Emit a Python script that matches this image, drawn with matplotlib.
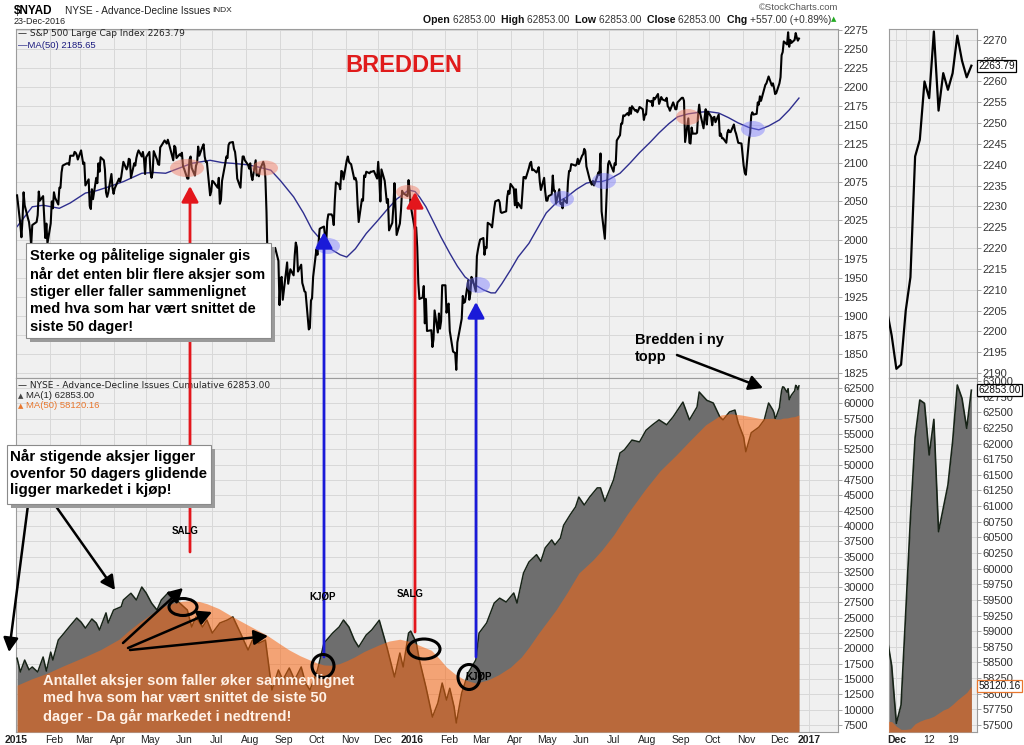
import matplotlib
matplotlib.use("Agg")
import matplotlib.pyplot as plt
import matplotlib.font_manager as fm
from matplotlib.patches import Ellipse, Rectangle, FancyArrowPatch
from matplotlib.transforms import ScaledTranslation
import numpy as np
import pandas as pd

plt.rcParams["font.family"] = ["Liberation Sans", "DejaVu Sans"]

# ---------------------------------------------------------------------------
# data
# ---------------------------------------------------------------------------
nyse_holidays = ["2015-01-01", "2015-01-19", "2015-02-16", "2015-04-03", "2015-05-25",
                 "2015-07-03", "2015-09-07", "2015-11-26", "2015-12-25", "2016-01-01",
                 "2016-01-18", "2016-02-15", "2016-03-25", "2016-05-30", "2016-07-04",
                 "2016-09-05", "2016-11-24"]

# S&P 500 daily close, one list per month
sp500_by_month = {
    "2015-01": [2058, 2020, 2003, 2026, 2062, 2045, 2028, 2023, 2011, 1992, 2019, 2023, 2032, 2063, 2051, 2057, 2029, 2002, 2021, 1995],
    "2015-02": [2021, 2050, 2041, 2062, 2055, 2046, 2068, 2068, 2088, 2097, 2100, 2100, 2098, 2110, 2110, 2115, 2114, 2111, 2105],
    "2015-03": [2117, 2108, 2099, 2101, 2071, 2079, 2044, 2040, 2066, 2053, 2081, 2074, 2100, 2089, 2108, 2104, 2092, 2062, 2056, 2061, 2086, 2068],
    "2015-04": [2060, 2067, 2080, 2076, 2082, 2092, 2102, 2092, 2096, 2106, 2105, 2081, 2100, 2097, 2107, 2113, 2117, 2109, 2115, 2106, 2086],
    "2015-05": [2108, 2115, 2089, 2081, 2088, 2116, 2105, 2099, 2098, 2121, 2123, 2130, 2128, 2126, 2131, 2126, 2104, 2123, 2121, 2107],
    "2015-06": [2112, 2110, 2114, 2096, 2093, 2080, 2080, 2105, 2109, 2094, 2084, 2097, 2101, 2122, 2110, 2122, 2125, 2109, 2102, 2102, 2058, 2063],
    "2015-07": [2077, 2076, 2068, 2081, 2047, 2052, 2077, 2100, 2109, 2107, 2124, 2127, 2128, 2119, 2115, 2102, 2080, 2068, 2093, 2109, 2109, 2104],
    "2015-08": [2098, 2093, 2100, 2084, 2078, 2104, 2084, 2086, 2083, 2092, 2102, 2097, 2080, 2036, 1971, 1893, 1868, 1940, 1988, 1989, 1972],
    "2015-09": [1914, 1949, 1951, 1921, 1970, 1942, 1952, 1961, 1953, 1979, 1996, 1990, 1958, 1967, 1943, 1938, 1932, 1931, 1882, 1884, 1920],
    "2015-10": [1923, 1951, 1987, 1980, 1996, 2014, 2015, 2017, 2004, 1994, 2024, 2033, 2033, 2030, 2019, 2052, 2075, 2072, 2066, 2090, 2089, 2079],
    "2015-11": [2104, 2109, 2102, 2100, 2099, 2079, 2081, 2076, 2046, 2023, 2053, 2051, 2084, 2082, 2089, 2087, 2089, 2089, 2090, 2080],
    "2015-12": [2102, 2080, 2050, 2092, 2077, 2063, 2048, 2053, 2012, 2022, 2043, 2074, 2041, 2006, 2021, 2038, 2064, 2061, 2057, 2078, 2063, 2044],
    "2016-01": [2012, 2016, 1990, 1943, 1922, 1924, 1939, 1890, 1922, 1880, 1881, 1859, 1869, 1907, 1878, 1903, 1883, 1893, 1940],
    "2016-02": [1940, 1904, 1913, 1916, 1880, 1853, 1852, 1851, 1829, 1865, 1896, 1926, 1917, 1918, 1946, 1921, 1929, 1951, 1948, 1932],
    "2016-03": [1978, 1987, 1994, 2000, 2002, 1980, 1990, 1989, 2022, 2019, 2016, 2028, 2041, 2050, 2052, 2049, 2036, 2035, 2037, 2056, 2064, 2060],
    "2016-04": [2073, 2067, 2045, 2066, 2042, 2048, 2041, 2062, 2082, 2082, 2080, 2094, 2100, 2102, 2091, 2092, 2088, 2091, 2095, 2076, 2065],
    "2016-05": [2081, 2063, 2051, 2051, 2057, 2059, 2084, 2064, 2064, 2047, 2066, 2047, 2048, 2041, 2053, 2048, 2076, 2090, 2090, 2099, 2097],
    "2016-06": [2099, 2106, 2099, 2110, 2112, 2119, 2116, 2096, 2079, 2075, 2072, 2077, 2071, 2083, 2088, 2085, 2113, 2037, 2001, 2036, 2071, 2099],
    "2016-07": [2103, 2089, 2100, 2098, 2130, 2137, 2152, 2152, 2163, 2162, 2166, 2163, 2173, 2165, 2175, 2169, 2170, 2167, 2170, 2174],
    "2016-08": [2171, 2157, 2164, 2164, 2183, 2181, 2182, 2175, 2186, 2184, 2191, 2178, 2182, 2187, 2184, 2182, 2186, 2175, 2173, 2169, 2180, 2176, 2171],
    "2016-09": [2171, 2180, 2186, 2186, 2182, 2128, 2159, 2127, 2126, 2147, 2139, 2139, 2140, 2164, 2177, 2165, 2146, 2160, 2171, 2151, 2168],
    "2016-10": [2161, 2150, 2160, 2161, 2154, 2164, 2136, 2139, 2133, 2133, 2127, 2140, 2144, 2141, 2141, 2151, 2143, 2139, 2133, 2127, 2126],
    "2016-11": [2111, 2097, 2088, 2085, 2132, 2140, 2163, 2167, 2164, 2165, 2180, 2177, 2188, 2182, 2198, 2203, 2205, 2214, 2202, 2205, 2199],
    "2016-12": [2191, 2192, 2205, 2213, 2242, 2246, 2260, 2256, 2272, 2253, 2262, 2258, 2262, 2271, 2265, 2261, 2263.79],
}

sp500_ma50_dates = ["2015-01-02", "2015-01-09", "2015-01-16", "2015-01-26", "2015-02-10", "2015-02-20",
                    "2015-03-06", "2015-03-16", "2015-03-27", "2015-04-10", "2015-04-27", "2015-05-08",
                    "2015-05-19", "2015-06-01", "2015-06-12", "2015-06-29", "2015-07-10", "2015-07-20",
                    "2015-08-03", "2015-08-13", "2015-08-24", "2015-09-02", "2015-09-14", "2015-09-23",
                    "2015-10-01", "2015-10-12", "2015-10-20", "2015-10-27", "2015-11-02", "2015-11-10",
                    "2015-11-20", "2015-11-30", "2015-12-09", "2015-12-18", "2015-12-29", "2016-01-04",
                    "2016-01-08", "2016-01-14", "2016-01-20", "2016-01-28", "2016-02-05", "2016-02-12",
                    "2016-02-19", "2016-02-29", "2016-03-07", "2016-03-14", "2016-03-18", "2016-03-24",
                    "2016-04-01", "2016-04-08", "2016-04-18", "2016-04-26", "2016-05-04", "2016-05-13",
                    "2016-05-23", "2016-06-01", "2016-06-10", "2016-06-17", "2016-06-24", "2016-07-01",
                    "2016-07-11", "2016-07-20", "2016-07-29", "2016-08-08", "2016-08-16", "2016-08-25",
                    "2016-09-02", "2016-09-12", "2016-09-22", "2016-09-30", "2016-10-10", "2016-10-19",
                    "2016-10-28", "2016-11-07", "2016-11-16", "2016-11-25", "2016-12-05", "2016-12-14",
                    "2016-12-23"]
sp500_ma50 = [2017, 2030, 2043, 2045, 2041, 2048, 2061, 2064, 2069, 2076, 2087, 2088, 2087, 2094,
              2100, 2104, 2101, 2100, 2098, 2095, 2091, 2077, 2056, 2035, 2013, 1995, 1986, 1980,
              1977, 1988, 2008, 2024, 2039, 2053, 2065, 2063, 2056, 2043, 2026, 2003, 1982, 1965,
              1951, 1940, 1934, 1930, 1930, 1942, 1960, 1977, 1995, 2015, 2035, 2048, 2056, 2066,
              2074, 2076, 2076, 2079, 2087, 2100, 2114, 2128, 2140, 2152, 2161, 2165, 2167, 2168,
              2166, 2160, 2153, 2147, 2144, 2149, 2157, 2170, 2185.65]

# NYSE cumulative advance-decline line
ad_dates = ["2015-01-02", "2015-01-05", "2015-01-09", "2015-01-13", "2015-01-16", "2015-01-21",
            "2015-01-26", "2015-01-29", "2015-02-02", "2015-02-04", "2015-02-09", "2015-02-13",
            "2015-02-19", "2015-02-26", "2015-03-02", "2015-03-06", "2015-03-12", "2015-03-16",
            "2015-03-19", "2015-03-25", "2015-03-27", "2015-04-01", "2015-04-08", "2015-04-10",
            "2015-04-17", "2015-04-22", "2015-04-27", "2015-05-01", "2015-05-06", "2015-05-11",
            "2015-05-15", "2015-05-22", "2015-05-26", "2015-06-01", "2015-06-08", "2015-06-12",
            "2015-06-16", "2015-06-22", "2015-06-26", "2015-07-01", "2015-07-08", "2015-07-15",
            "2015-07-20", "2015-07-27", "2015-08-03", "2015-08-07", "2015-08-13", "2015-08-19",
            "2015-08-25", "2015-08-31", "2015-09-04", "2015-09-10", "2015-09-15", "2015-09-21",
            "2015-09-25", "2015-09-29", "2015-10-06", "2015-10-12", "2015-10-20", "2015-10-26",
            "2015-10-30", "2015-11-04", "2015-11-09", "2015-11-13", "2015-11-20", "2015-11-25",
            "2015-12-02", "2015-12-09", "2015-12-16", "2015-12-21", "2015-12-24", "2015-12-29",
            "2015-12-31", "2016-01-05", "2016-01-08", "2016-01-14", "2016-01-20", "2016-01-25",
            "2016-01-29", "2016-02-02", "2016-02-05", "2016-02-09", "2016-02-11", "2016-02-16",
            "2016-02-22", "2016-02-29", "2016-03-03", "2016-03-10", "2016-03-17", "2016-03-22",
            "2016-03-28", "2016-04-04", "2016-04-07", "2016-04-13", "2016-04-18", "2016-04-25",
            "2016-04-29", "2016-05-03", "2016-05-09", "2016-05-12", "2016-05-17", "2016-05-20",
            "2016-05-26", "2016-05-31", "2016-06-03", "2016-06-08", "2016-06-13", "2016-06-20",
            "2016-06-23", "2016-06-27", "2016-07-05", "2016-07-11", "2016-07-15", "2016-07-22",
            "2016-07-29", "2016-08-04", "2016-08-10", "2016-08-16", "2016-08-23", "2016-08-29",
            "2016-09-07", "2016-09-13", "2016-09-20", "2016-09-22", "2016-09-29", "2016-10-05",
            "2016-10-11", "2016-10-14", "2016-10-20", "2016-10-25", "2016-10-28", "2016-11-02",
            "2016-11-04", "2016-11-09", "2016-11-16", "2016-11-21", "2016-11-25",
            "2016-11-29", "2016-11-30", "2016-12-01", "2016-12-02", "2016-12-05", "2016-12-06",
            "2016-12-07", "2016-12-08", "2016-12-09", "2016-12-12", "2016-12-13", "2016-12-14",
            "2016-12-15", "2016-12-16", "2016-12-19", "2016-12-20", "2016-12-21", "2016-12-22",
            "2016-12-23"]
ad_values = [18400, 16150, 18100, 16500, 16970, 16150, 18600, 16300, 19400, 18100, 21370, 22200,
             23500, 24960, 24300, 23300, 24800, 24150, 23000, 25800, 24150, 26270, 26800, 27900,
             29000, 27900, 30020, 29050, 27400, 26270, 27900, 29200, 28400, 27400, 26270, 23500,
             25150, 23500, 24640, 22500, 24150, 24640, 25150, 22500, 19740, 21370, 20860, 21370,
             13210, 16480, 14850, 16800, 14850, 16970, 14350, 13210, 16480, 20860, 22500, 23500,
             24640, 23500, 21370, 20230, 22200, 23000, 24600, 20230, 15340, 19250, 16970, 22500,
             22830, 21000, 18110, 13700, 8800, 11080, 14350, 11580, 13500, 10440, 7830, 12730,
             16000, 18110, 22500, 24150, 27400, 28200, 27570, 29050, 27400, 32300, 34100, 35300,
             34200, 36400, 37700, 36900, 38000, 40100, 41800, 43100, 44700, 43400, 44700, 46200,
             46200, 44000, 47500, 51900, 52400, 54000, 53700, 55600, 56500, 57300, 56500, 57800,
             60200, 57300, 59400, 61850, 60500, 60050, 57800, 57300, 58600, 58900, 56800, 54500,
             52100, 55200, 56100, 57300, 60050,
             58900, 58450, 57526, 57819, 59300, 60800, 62100, 62696, 62643, 61817, 62387, 60591,
             60964, 61337, 62030, 62936, 62723, 62243, 62853]

# MA(50) of the A-D line (main chart, up to late November)
ad_ma50_dates = ["2015-01-02", "2015-01-15", "2015-01-29", "2015-02-13", "2015-03-05", "2015-03-20",
                 "2015-04-06", "2015-04-15", "2015-04-24", "2015-05-04", "2015-05-11", "2015-05-18",
                 "2015-05-26", "2015-06-03", "2015-06-12", "2015-06-19", "2015-06-26", "2015-07-07",
                 "2015-07-20", "2015-08-03", "2015-08-20", "2015-08-31", "2015-09-10", "2015-09-20",
                 "2015-09-29", "2015-10-06", "2015-10-12", "2015-10-19", "2015-10-26", "2015-11-02",
                 "2015-11-09", "2015-11-18", "2015-12-02", "2015-12-11", "2015-12-21", "2015-12-31",
                 "2016-01-08", "2016-01-19", "2016-01-26", "2016-02-02", "2016-02-10", "2016-02-19",
                 "2016-02-29", "2016-03-11", "2016-03-21", "2016-04-01", "2016-04-11", "2016-04-18",
                 "2016-04-27", "2016-05-05", "2016-05-13", "2016-05-23", "2016-06-03", "2016-06-16",
                 "2016-06-24", "2016-07-05", "2016-07-18", "2016-08-03", "2016-08-17", "2016-09-01",
                 "2016-09-14", "2016-09-28", "2016-10-12", "2016-10-21", "2016-10-31", "2016-11-09",
                 "2016-11-18", "2016-11-28"]
ad_ma50 = [14000, 15000, 15900, 17100, 18600, 19800, 21500, 22900, 24150, 25400, 26270, 26900,
           27400, 27700, 27800, 27650, 27300, 26500, 25150, 23800, 22200, 20900, 19740, 18800,
           18110, 17600, 17300, 17250, 17500, 18000, 18600, 19500, 20600, 21200, 21500, 21100,
           20500, 19700, 18400, 16950, 15800, 14850, 14350, 14850, 15700, 16950, 18600, 20200,
           22500, 24400, 26300, 29050, 32300, 34430, 36000, 38500, 42000, 45900, 49000, 51600,
           54000, 56500, 58100, 58300, 58100, 57800, 57500, 57550]
# MA(50) of the A-D line, Nov 29 - Dec 23 2016 (daily, zoom panel)
ad_ma50_dec = [57560, 57555, 57480, 57430, 57430, 57440, 57520, 57560, 57590, 57610, 57640,
               57690, 57740, 57770, 57830, 57900, 57960, 58020, 58120.16]

zoom_tick_idx = [2, 4, 9, 14]
zoom_tick_labels = ["Dec", "", "12", "19"]

# ---------------------------------------------------------------------------
# build series
# ---------------------------------------------------------------------------
days = pd.bdate_range("2015-01-02", "2016-12-23", freq="C", holidays=nyse_holidays)
sp_dates, sp_vals = [], []
for key, vals in sp500_by_month.items():
    d = days[days.strftime("%Y-%m") == key]
    if len(d) != len(vals):
        raise ValueError(f"{key}: {len(d)} trading days vs {len(vals)} values")
    sp_dates.extend(d)
    sp_vals.extend(vals)
sp_dates = pd.DatetimeIndex(sp_dates)

ad_d = pd.to_datetime(ad_dates)
n_zoom = len(ad_ma50_dec)
adma_d = pd.to_datetime(ad_ma50_dates).append(ad_d[-n_zoom:])
adma_v = list(ad_ma50) + list(ad_ma50_dec)

W, H = 1024, 745
fig = plt.figure(figsize=(W / 100, H / 100), dpi=100)
fig.patch.set_facecolor("white")


def px(x, y):
    return (x / W, 1 - y / H)


def box_axes(x0, y0, x1, y1):
    return [x0 / W, 1 - y1 / H, (x1 - x0) / W, (y1 - y0) / H]


BG = "#f0f0f0"
GRID = "#d8d8d8"
GRAY = "#6e6e6e"
ORANGE = "#f76511"
TICKC = "#333333"
avail = {f.name for f in fm.fontManager.ttflist}
NARROW = "Liberation Sans Narrow" if "Liberation Sans Narrow" in avail else "Liberation Sans"

ax_top = fig.add_axes(box_axes(16, 29, 838, 378))
ax_bot = fig.add_axes(box_axes(16, 378, 838, 732), sharex=ax_top)
axr_top = fig.add_axes(box_axes(889, 29, 977, 378))
axr_bot = fig.add_axes(box_axes(889, 378, 977, 732), sharex=axr_top)

for ax in (ax_top, ax_bot, axr_top, axr_bot):
    ax.set_facecolor(BG)
    ax.grid(True, color=GRID, lw=0.7)
    ax.set_axisbelow(True)
    for s in ax.spines.values():
        s.set_color("#9c9c9c")
        s.set_linewidth(0.8)
    ax.yaxis.tick_right()
    ax.tick_params(axis="y", direction="out", length=3, width=0.6, color="#999999",
                   labelsize=8, labelcolor=TICKC, pad=1)

# ---- main price panel
ax_top.plot(sp_dates, sp_vals, color="black", lw=1.5, zorder=3)
ax_top.plot(pd.to_datetime(sp500_ma50_dates), sp500_ma50, color="#2e2e8e", lw=1.0, zorder=2)
ax_top.set_ylim(1818.3, 2276.3)
ax_top.set_yticks(np.arange(1825, 2276, 25))
ax_top.tick_params(axis="x", bottom=False, labelbottom=False)

# ---- main A-D panel
bot_lo = 6358
ax_bot.fill_between(ad_d, bot_lo, ad_values, color=GRAY, lw=0, zorder=2)
ax_bot.plot(ad_d, ad_values, color="#172317", lw=1.1, zorder=3)
ax_bot.fill_between(adma_d, bot_lo, adma_v, color=ORANGE, alpha=0.55, lw=0, zorder=4)
ax_bot.set_ylim(bot_lo, 64132)
ax_bot.set_yticks(np.arange(7500, 62501, 2500))

months = pd.date_range("2015-01-01", "2017-01-01", freq="MS")
ax_bot.set_xticks(months)
ax_bot.set_xticklabels([str(m.year) if m.month == 1 else m.strftime("%b") for m in months])
ax_bot.set_xlim(pd.Timestamp("2015-01-01"), pd.Timestamp("2017-01-28"))
ax_bot.tick_params(axis="x", length=0, pad=2, labelsize=7.5, labelcolor="#222222")
for m, lbl in zip(months, ax_bot.get_xticklabels()):
    lbl.set_family(NARROW)
    if m.month == 1:
        lbl.set_fontweight("bold")
    else:
        lbl.set_transform(lbl.get_transform() + ScaledTranslation(3 / 72, 0, fig.dpi_scale_trans))

# ---- zoom panels (trading-day index, Nov 29 = 0)
zi = np.arange(n_zoom)
axr_top.plot(zi, sp_vals[-n_zoom:], color="black", lw=1.6, zorder=3)
axr_top.set_ylim(2188.8, 2272.6)
axr_top.set_yticks(np.arange(2190, 2271, 5))
axr_top.tick_params(axis="x", bottom=False, labelbottom=False)

zr_lo = 57388
axr_bot.fill_between(zi, zr_lo, ad_values[-n_zoom:], color=GRAY, lw=0, zorder=2)
axr_bot.plot(zi, ad_values[-n_zoom:], color="#172317", lw=1.2, zorder=3)
axr_bot.fill_between(zi, zr_lo, ad_ma50_dec, color=ORANGE, alpha=0.55, lw=0, zorder=4)
axr_bot.set_ylim(zr_lo, 63048)
axr_bot.set_yticks(np.arange(57500, 63001, 250))
axr_bot.set_xlim(0.43, 19.2)
axr_bot.set_xticks(zoom_tick_idx)
axr_bot.set_xticklabels(zoom_tick_labels)
axr_bot.tick_params(axis="x", length=0, pad=2, labelsize=7.5, labelcolor="#222222")
axr_bot.get_xticklabels()[0].set_fontweight("bold")

# last-value tags on the zoom panels
for ax, val, txt, ec in ((axr_top, sp_vals[-1], f"{sp_vals[-1]:.2f}", "black"),
                         (axr_bot, ad_values[-1], f"{ad_values[-1]:.2f}", "black"),
                         (axr_bot, ad_ma50_dec[-1], f"{ad_ma50_dec[-1]:.2f}", "#e8772e")):
    ax.annotate(txt, xy=(1.0, val), xycoords=("axes fraction", "data"), xytext=(1, 0),
                textcoords="offset points", ha="left", va="center", fontsize=7.3,
                color="#111111", annotation_clip=False, zorder=10,
                bbox=dict(boxstyle="square,pad=0.1", fc="white", ec=ec, lw=0.9))

# ---------------------------------------------------------------------------
# header and panel legends
# ---------------------------------------------------------------------------
fig.text(*px(14, 11), "$NYAD", fontsize=8.5, fontweight="bold", va="center")
fig.text(*px(65, 11), "NYSE - Advance-Decline Issues", fontsize=7.3, va="center", color="#222222")
fig.text(*px(212, 11), "INDX", fontsize=6, va="center", color="#222222")
fig.text(*px(14, 21), "23-Dec-2016", fontsize=6.5, va="center", color="#222222")
fig.text(*px(838, 8), "\u00a9StockCharts.com", fontsize=6.8, va="center", ha="right", color="#555555")

renderer = fig.canvas.get_renderer()
pieces = [("Open ", True), ("62853.00  ", False), ("High ", True), ("62853.00  ", False),
          ("Low ", True), ("62853.00  ", False), ("Close ", True), ("62853.00  ", False),
          ("Chg ", True), ("+557.00 (+0.89%)", False)]
xr = 831 / W
for s, b in reversed(pieces):
    t = fig.text(xr, 1 - 20 / H, s, fontsize=7.6 if b else 7.3, ha="right", va="center",
                 fontweight="bold" if b else "normal", color="#111111" if b else "#333333")
    xr -= t.get_window_extent(renderer).width / W
fig.text(*px(834, 19), "\u25b2", fontsize=5, color="#22aa22", ha="center", va="center",
         family="DejaVu Sans")

fig.text(*px(18, 34), "\u2014 S&P 500 Large Cap Index 2263.79", fontsize=6.5, va="center",
         family="DejaVu Sans", color="#222222")
fig.text(*px(18, 45), "\u2014MA(50) 2185.65", fontsize=6.8, va="center", color="#1c1c80")
fig.text(*px(18, 385), "\u2014 NYSE - Advance-Decline Issues Cumulative 62853.00", fontsize=6.5,
         va="center", family="DejaVu Sans", color="#222222")
fig.text(*px(18, 396), "\u25b2", fontsize=5, va="center", family="DejaVu Sans", color="#444444")
fig.text(*px(26, 396), "MA(1) 62853.00", fontsize=6.8, va="center", color="#222222")
fig.text(*px(18, 406), "\u25b2", fontsize=5, va="center", family="DejaVu Sans", color="#e8772e")
fig.text(*px(26, 406), "MA(50) 58120.16", fontsize=6.8, va="center", color="#e8772e")

fig.text(*px(404, 65), "BREDDEN", fontsize=17, fontweight="bold", color="#e01b1b",
         ha="center", va="center")

# ---------------------------------------------------------------------------
# hand-drawn annotations (figure pixel positions)
# ---------------------------------------------------------------------------


def ellipse(cx, cy, w, h, **kw):
    fig.add_artist(Ellipse(px(cx, cy), w / W, h / H, transform=fig.transFigure, **kw))


def arrow(x0, y0, x1, y1, color, lw=2.0, ms=16, z=4):
    fig.add_artist(FancyArrowPatch(px(x0, y0), px(x1, y1), transform=fig.transFigure,
                                   arrowstyle="-|>,head_length=0.6,head_width=0.32",
                                   mutation_scale=ms, color=color, lw=lw,
                                   shrinkA=0, shrinkB=0, zorder=z))


def note_box(x0, y0, x1, y1, text, size, tx, ty, ls):
    fig.add_artist(Rectangle(((x0 + 4) / W, 1 - (y1 + 4) / H), (x1 - x0) / W, (y1 - y0) / H,
                             transform=fig.transFigure, fc="#9a9a9a", ec="none", zorder=6))
    fig.add_artist(Rectangle((x0 / W, 1 - y1 / H), (x1 - x0) / W, (y1 - y0) / H,
                             transform=fig.transFigure, fc="white", ec="#8a8a8a", lw=0.8, zorder=7))
    fig.text(*px(tx, ty), text, fontsize=size, fontweight="bold", va="top", ha="left",
             color="black", zorder=8, linespacing=ls)


for cx, cy, w, h in ((187, 168, 34, 18), (265, 168, 26, 15), (408, 192, 24, 14), (688, 117, 24, 16)):
    ellipse(cx, cy, w, h, fc="#f0806a", ec="none", alpha=0.5, zorder=4)
for cx, cy, w, h in ((328, 246, 24, 16), (478, 285, 24, 16), (562, 199, 24, 16),
                     (604, 181, 24, 16), (753, 129, 24, 16)):
    ellipse(cx, cy, w, h, fc="#7a7aff", ec="none", alpha=0.45, zorder=4)

RED, BLUE = "#e3161c", "#1a1ad8"
arrow(190, 552, 190, 186, RED)
arrow(324, 657, 324, 232, BLUE)
arrow(415, 632, 415, 192, RED)
arrow(476, 657, 476, 302, BLUE)

for cx, cy, w, h in ((183, 607, 28, 17), (323, 666, 22, 23), (424, 649, 32, 20), (469, 677, 22, 25)):
    ellipse(cx, cy, w, h, fill=False, ec="black", lw=2.2, zorder=5)

for x0, y0, x1, y1 in ((28, 505, 9, 652), (55, 505, 115, 590), (123, 643, 183, 588),
                       (128, 648, 212, 612), (130, 650, 268, 636), (677, 355, 763, 388)):
    arrow(x0, y0, x1, y1, "black", lw=1.8, ms=14, z=5)

for x, y, s in ((185, 531, "SALG"), (323, 596, "KJ\u00d8P"), (410, 594, "SALG"), (479, 677, "KJ\u00d8P")):
    fig.text(*px(x, y), s, fontsize=7, fontweight="bold", ha="center", va="center", zorder=9)

note_box(26, 243, 271, 338,
         "Sterke og p\u00e5litelige signaler gis\nn\u00e5r det enten blir flere aksjer som\n"
         "stiger eller faller sammenlignet\nmed hva som har v\u00e6rt snittet de\nsiste 50 dager!",
         10.5, 30, 248, 1.3)
note_box(7, 445, 211, 504,
         "N\u00e5r stigende aksjer ligger\novenfor 50 dagers glidende\nligger markedet i kj\u00f8p!",
         10.9, 10, 449, 1.22)

fig.text(*px(43, 674),
         "Antallet aksjer som faller \u00f8ker sammenlignet\nmed hva som har v\u00e6rt snittet de siste 50\n"
         "dager - Da g\u00e5r markedet i nedtrend!",
         fontsize=10.5, fontweight="bold", color="#fff1e6", va="top", ha="left", zorder=9,
         linespacing=1.3)
fig.text(*px(635, 333), "Bredden i ny\ntopp", fontsize=10.5, fontweight="bold", va="top",
         ha="left", zorder=9, linespacing=1.3)

fig.savefig("out.png", dpi=100)
